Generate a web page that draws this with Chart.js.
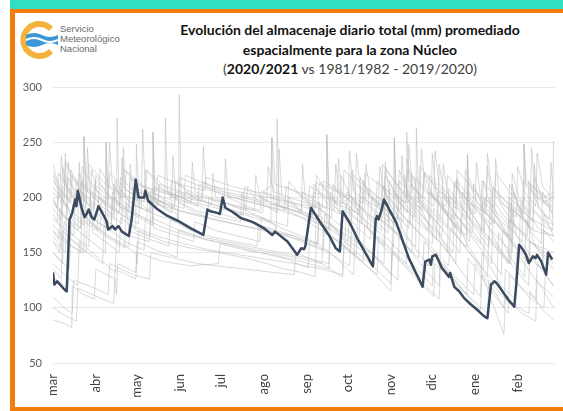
<!DOCTYPE html>
<html>
<head>
<meta charset="utf-8">
<script src="https://cdn.jsdelivr.net/npm/chart.js@4/dist/chart.umd.min.js"></script>
<style>
    html, body { margin: 0; padding: 0; width: 563px; height: 411px; overflow: hidden; background: #fff; }
    #franja { position: absolute; left: 10px; top: 0; width: 560px; height: 9px; background: #2fe0c2; }
    #marco { position: absolute; left: 10px; top: 9px; width: 570px; height: 402px; box-sizing: border-box;
             border-top: 4px solid #f07d0e; border-left: 5px solid #f07d0e; border-bottom: 4px solid #f07d0e; }
    #logo { position: absolute; left: 20px; top: 21px; }
    #smn { position: absolute; left: 60px; top: 24px; font-family: "Liberation Sans", Arial, sans-serif;
           font-size: 9.5px; line-height: 9.8px; color: #6b6b6b; }
    #titulo { position: absolute; left: 150px; width: 400px; top: 20px; text-align: center;
              font-family: Lato, "Open Sans", sans-serif; color: #111; }
    #titulo .l1 { font-weight: bold; font-size: 14px; line-height: 19.5px; }
    #titulo .l3 { font-size: 14px; line-height: 19.5px; color: #404040; }
    #titulo .l3 b { color: #111; }
    #graf { position: absolute; left: 0; top: 0; }
</style>
</head>
<body>
<div id="franja"></div>
<div id="marco"></div>
<svg id="logo" width="38" height="38" viewBox="0 0 38 38">
    <path d="M31 8 A16 16 0 1 0 31 30" fill="none" stroke="#f2b23b" stroke-width="6"/>
    <path d="M6 14 Q14 10 22 14 T38 14 L38 24 Q30 20 22 24 T6 24 Z" fill="#3b97d6"/>
    <path d="M6 19 Q14 15 22 19 T38 19" fill="none" stroke="#fff" stroke-width="2"/>
</svg>
<div id="smn">Servicio<br>Meteorológico<br>Nacional</div>
<div id="titulo">
    <div class="l1">Evolución del almacenaje diario total (mm) promediado</div>
    <div class="l1">espacialmente para la zona Núcleo</div>
    <div class="l3">(<b>2020/2021</b> vs 1981/1982 - 2019/2020)</div>
</div>
<canvas id="graf" width="563" height="411"></canvas>
<script>
const meses = ["mar", "abr", "may", "jun", "jul", "ago", "sep", "oct", "nov", "dic", "ene", "feb"];
const diasMes = [0, 31, 61, 92, 122, 153, 184, 214, 245, 275, 306, 337];
const ticksY = [50, 100, 150, 200, 250, 300];

// campaña 2020/2021 (día desde 1 de marzo, mm)
const diasActual = [0, 1, 3, 9.5, 10, 12, 14, 16, 17, 18, 21, 23, 26, 28, 30, 33, 37, 39, 40, 43, 45, 47.5, 50, 55, 57, 60, 62, 66, 67, 69,
    75, 82, 91, 100, 109, 112, 114, 119, 121, 123, 125, 130, 136, 143, 146, 153, 159, 161, 170, 177, 180, 182, 183, 187, 194, 200,
    205, 208, 210, 216, 221, 232, 234, 235, 236, 238, 240, 249, 258, 268, 270, 273, 274, 275, 277.6, 282, 285, 287, 288, 291,
    294.5, 298, 303, 305, 309, 311.5, 313, 315, 317.6, 320, 322, 327, 331, 334.5, 336, 338, 340.6, 343, 345, 348, 350, 351,
    354, 357.6, 359, 362];
const valoresActual = [132, 121, 124, 115, 116, 180, 186, 198, 192, 206, 189, 182, 189, 182, 180, 192, 183, 178, 171, 174, 171, 174, 169, 165, 180, 216, 200, 200, 206, 197,
    190, 184, 178.5, 172, 166, 189, 187.5, 186, 185, 200, 190.6, 187, 181.5, 178.5, 177, 172, 166, 169, 160, 148, 154, 153, 156, 190.6, 177, 166,
    154, 151, 187.5, 175, 162, 137.5, 180, 183, 180, 187.5, 198, 177, 145, 119, 142, 143.6, 139, 146.6, 148, 136, 131.5, 128, 131.5, 119,
    115, 109, 103, 101, 96.6, 93.6, 92, 90.6, 121, 124, 122, 113, 106, 101, 122, 157, 153, 148, 140.6, 146.6, 145, 148,
    142, 130, 150, 143.6];

// campañas 1981/1982 - 2019/2020 (pares día, mm)
const campanasPrevias = [
    [0,205, 6,196, 7,228, 10,210, 18,198, 19,222, 25,205, 33,196, 34,226, 40,212, 52,200, 53,224, 60,212, 75,206, 76,220, 91,212, 110,206, 111,218, 130,210, 150,204, 158,210, 159,254, 161,212, 175,206, 190,200, 191,214, 205,206, 215,198, 216,222, 228,208, 240,196, 241,226, 250,210, 256,200, 256.5,259, 258,215, 268,200, 269,222, 280,205, 292,190, 293,215, 305,195, 318,180, 319,208, 330,195, 341,185, 341.5,248, 343,210, 355,195, 363,200],
    [0,89, 8,86, 13.6,82, 14,120, 22,112, 30,108, 31,135, 45,126, 46,112, 47,140, 60,132, 61,160, 75,152, 90,146, 91,170, 110,162, 125,158, 150,150, 170,144, 185,136, 186,160, 200,150, 215,138, 216,165, 232,148, 245,130, 246,158, 262,138, 275,120, 276,150, 290,130, 305,112, 306,140, 320,115, 327,100, 328,135, 340,118, 350,108, 351,140, 363,120],
    [0,160, 5,150, 6,200, 12,185, 22,175, 22.5,255, 24,195, 35,182, 38,176, 38.5,250, 40,195, 55,180, 60,172, 60.5,248, 62,205, 80,196, 81,190, 81.5,272, 83,205, 100,196, 120,190, 140,184, 160,176, 162,171, 162.5,271, 164,192, 180,182, 195,170, 198,166, 198.5,257, 200,196, 215,180, 230,162, 231,200, 245,180, 247,176, 247.5,254, 249,200, 262,180, 280,160, 281,190, 300,165, 300.5,239, 302,188, 315,165, 330,140, 331,180, 345,160, 363,150],
    [0,175, 10,160, 20,150, 21,185, 35,170, 46,160, 46.5,272, 48,192, 65,180, 72,175, 72.5,259, 74,195, 90,185, 91,178, 91.5,293, 93,200, 110,190, 130,182, 150,175, 175,165, 190,155, 191,185, 210,168, 230,150, 240,140, 241,185, 255,165, 263,155, 263.5,263, 265,200, 280,175, 295,150, 296,185, 310,160, 325,130, 326,170, 340,150, 355,135, 356,170, 363,160],
    [0,230, 4,210, 12,195, 13,225, 20,205, 30,192, 31,215, 42,200, 55,188, 56,218, 70,205, 85,198, 86,215, 100,205, 108,200, 109,246, 111,210, 130,202, 150,196, 170,190, 188,184, 189,205, 205,195, 222,185, 223,210, 238,192, 250,180, 251,215, 265,195, 272,186, 273,220, 287,198, 300,180, 301,205, 315,185, 330,165, 331,200, 345,182, 362,170, 363,251],
    [0,140, 10,128, 18,120, 19,160, 33,145, 45,132, 46,160, 60,150, 61,140, 62,170, 80,160, 100,154, 120,150, 140,145, 155,140, 165,136, 180,132, 190,128, 191,160, 205,145, 218,130, 219,165, 235,145, 250,125, 251,165, 265,142, 280,120, 281,160, 295,135, 310,110, 311,150, 325,120, 335,108, 336,150, 350,125, 363,110],
    [0,215, 8,200, 9,232, 15,215, 25,205, 26,230, 38,212, 50,200, 51,226, 66,210, 80,204, 95,200, 96,220, 115,210, 135,205, 155,200, 175,195, 195,190, 196,215, 210,204, 225,195, 226,222, 240,208, 256,195, 257,225, 270,205, 285,192, 286,220, 298,200, 310,188, 311,215, 325,195, 340,182, 341,215, 352,200, 363,192],
    [0,190, 6,180, 7,210, 20,192, 29,182, 30,212, 45,195, 58,184, 59,210, 75,198, 88,192, 89,205, 105,198, 125,190, 145,184, 158,178, 158.5,254, 160,196, 178,186, 200,176, 212,165, 213,205, 228,185, 243,168, 244,208, 258,190, 272,170, 273,205, 288,180, 302,160, 303,195, 318,170, 333,150, 334,190, 348,170, 363,165],
    [0,150, 12,135, 13,175, 28,160, 38,150, 38.5,250, 40,178, 55,165, 70,160, 71,182, 88,172, 105,165, 125,160, 145,155, 165,150, 185,145, 200,140, 201,175, 215,160, 232,145, 233,185, 248,168, 260,150, 261,195, 275,172, 290,150, 291,185, 305,162, 318,140, 319,180, 333,158, 345,140, 346,190, 363,170],
    [0,200, 3,190, 4,222, 14,202, 22,192, 22.5,255, 24,210, 36,196, 48,186, 49,218, 63,200, 76,194, 77,212, 95,204, 115,198, 135,192, 152,186, 153,205, 170,196, 185,190, 186,210, 200,200, 210,194, 211,225, 225,205, 238,194, 239,230, 252,208, 265,195, 266,228, 280,206, 292,195, 293,225, 306,205, 320,192, 321,222, 334,200, 341,195, 341.5,248, 343,215, 356,200, 363,205],
    [0,110, 8,100, 14,95, 15,125, 30,118, 40,112, 41,140, 58,130, 70,126, 71,150, 88,145, 105,140, 125,137, 140,135, 160,132, 175,130, 176,150, 195,140, 210,128, 211,155, 230,135, 245,115, 246,150, 262,128, 276,110, 277,140, 295,118, 310,98, 311,130, 320,100, 327,76, 328,110, 340,95, 350,88, 351,125, 363,100],
    [0,180, 15,165, 16,195, 30,180, 42,170, 43,200, 58,186, 72,178, 72.5,259, 74,198, 92,188, 112,182, 132,176, 152,170, 172,164, 184,160, 185,185, 200,172, 214,160, 215,192, 230,175, 245,160, 247,155, 247.5,254, 249,190, 262,172, 275,158, 276,190, 290,168, 300,155, 300.5,239, 302,180, 318,158, 332,140, 333,178, 348,158, 363,145],
    [0,170, 10,158, 22,150, 23,180, 40,165, 55,155, 56,175, 75,165, 95,158, 115,152, 135,148, 155,144, 175,140, 195,135, 210,130, 211,160, 228,142, 245,122, 246,150, 262,130, 280,108, 281,140, 298,115, 315,95, 316,125, 330,105, 345,95, 346,115, 355,98, 363,89],
    [0,222, 5,208, 13,196, 14,220, 26,205, 40,195, 41,222, 55,205, 67,198, 68,225, 82,208, 91,200, 92,218, 110,208, 130,200, 150,194, 168,188, 169,210, 185,198, 198,190, 198.5,257, 200,210, 218,195, 234,180, 235,215, 250,196, 262,182, 263,218, 278,196, 290,180, 291,212, 305,192, 318,175, 319,210, 332,190, 345,175, 346,212, 363,195],
    [0,128, 10,118, 11,165, 25,150, 36,140, 37,175, 52,160, 66,152, 67,180, 85,170, 100,165, 118,160, 138,155, 158,150, 178,145, 195,140, 196,170, 212,155, 225,142, 226,175, 240,158, 256,140, 257,180, 272,158, 287,138, 288,172, 302,150, 315,128, 316,165, 332,140, 345,120, 346,160, 363,140],
    [0,195, 8,182, 20,172, 21,205, 34,190, 44,180, 45,208, 60,192, 72,186, 73,210, 90,198, 105,192, 106,212, 125,202, 145,195, 165,188, 185,180, 200,172, 201,200, 218,182, 228,172, 229,208, 245,188, 258,172, 259,212, 273,190, 286,172, 287,208, 300,185, 312,168, 313,200, 328,178, 340,160, 341,200, 355,180, 363,175],
    [0,100, 10,92, 17,88, 18,118, 32,110, 44,104, 45,135, 60,126, 61,150, 80,142, 100,138, 120,140, 121,158, 140,152, 160,148, 180,142, 200,135, 201,165, 218,148, 235,130, 236,165, 252,145, 268,125, 269,160, 285,135, 300,112, 301,145, 316,118, 330,95, 331,130, 345,110, 356,100, 357,130, 363,120],
    [0,165, 6,155, 7,195, 20,180, 32,170, 33,200, 48,185, 62,176, 63,205, 80,192, 97,186, 115,180, 135,175, 155,170, 175,165, 192,158, 193,190, 208,175, 222,162, 223,200, 238,180, 252,165, 253,205, 268,182, 282,165, 283,200, 298,175, 310,158, 311,195, 326,170, 338,150, 339,195, 352,172, 363,165],
    [0,185, 3,178, 4,205, 8,195, 9,240, 10,200, 16,190, 17,215, 22,200, 27,192, 28,225, 32,205, 38,195, 43,188, 44,212, 50,198, 55,190, 56,230, 58,200, 65,193, 70,188, 71,206, 80,198, 90,192, 95,190, 96,205, 105,198, 115,193, 116,222, 118,200, 130,192, 140,188, 141,210, 150,200, 160,194, 170,190, 171,215, 180,200, 190,190, 191,220, 200,202, 206,195, 207,235, 209,205, 218,192, 222,188, 223,218, 230,200, 236,192, 237,228, 240,205, 248,192, 252,188, 253,238, 255,205, 262,195, 268,188, 269,222, 276,200, 282,190, 283,230, 286,205, 294,190, 300,182, 301,215, 308,195, 314,185, 315,228, 318,200, 326,185, 332,176, 333,222, 338,200, 346,185, 347,245, 349,210, 356,195, 363,190],
    [0,170, 4,162, 5,190, 12,178, 18,170, 19,232, 21,188, 28,176, 34,170, 35,198, 42,184, 50,176, 51,245, 53,195, 62,184, 68,180, 69,205, 78,192, 86,186, 87,238, 89,198, 100,188, 112,182, 113,200, 125,190, 138,184, 139,210, 150,195, 163,186, 164,244, 166,200, 178,190, 188,182, 189,212, 198,196, 204,188, 205,230, 208,200, 216,186, 224,176, 225,215, 232,196, 240,184, 241,232, 244,200, 252,186, 259,176, 260,222, 266,198, 274,182, 275,240, 278,200, 287,182, 296,166, 297,205, 304,185, 311,170, 312,215, 318,190, 326,172, 333,160, 334,205, 340,185, 348,170, 349,230, 352,190, 363,176],
    [0,198, 5,188, 10,180, 11,218, 17,200, 24,190, 25,245, 27,205, 35,192, 44,184, 45,215, 54,198, 64,190, 65,262, 67,205, 78,196, 88,190, 89,215, 100,202, 112,196, 124,190, 125,235, 127,200, 140,192, 150,188, 151,205, 165,196, 180,188, 181,230, 183,198, 195,188, 202,182, 203,212, 212,196, 219,186, 220,240, 223,205, 232,190, 243,178, 244,215, 251,196, 257,186, 258,248, 261,205, 270,188, 279,176, 280,230, 284,200, 293,182, 304,168, 305,212, 312,190, 320,176, 321,235, 324,195, 334,176, 344,165, 345,215, 352,192, 360,180, 361,232, 363,200],
    [0,150, 7,140, 8,178, 15,165, 26,155, 27,205, 29,168, 40,158, 48,150, 49,182, 60,170, 70,164, 71,200, 73,172, 88,166, 102,160, 103,178, 118,170, 134,165, 150,160, 151,182, 166,172, 180,165, 192,158, 193,196, 196,170, 210,158, 220,148, 221,190, 230,170, 240,156, 241,210, 244,175, 255,158, 265,145, 266,192, 275,168, 286,150, 287,200, 290,170, 302,150, 312,135, 313,180, 322,158, 331,140, 332,195, 336,165, 346,148, 355,135, 356,185, 363,165],
    [0,210, 5,200, 6,238, 8,212, 15,200, 20,195, 21,228, 30,208, 40,198, 41,250, 43,212, 55,200, 66,196, 67,225, 80,206, 95,200, 108,196, 109,214, 125,205, 142,200, 155,196, 156,228, 160,205, 176,198, 192,192, 193,212, 204,200, 214,192, 215,242, 218,205, 230,195, 240,188, 241,220, 248,204, 256,195, 257,235, 260,210, 270,198, 276,192, 277,242, 280,212, 290,198, 298,188, 299,225, 306,205, 314,192, 315,240, 318,210, 328,192, 336,182, 337,228, 342,205, 350,192, 351,240, 355,210, 363,198],
    [0,135, 6,126, 7,170, 16,158, 24,150, 25,190, 32,170, 44,160, 52,154, 53,195, 55,170, 70,162, 84,156, 85,180, 100,170, 116,164, 132,160, 148,156, 149,175, 164,168, 180,160, 196,152, 197,185, 206,168, 216,155, 217,200, 224,178, 236,160, 246,148, 247,192, 254,170, 266,148, 272,138, 273,185, 282,162, 292,140, 293,178, 300,158, 312,135, 322,120, 323,168, 332,145, 342,128, 343,180, 350,155, 363,135],
    [0,220, 4,205, 10,192, 11,232, 14,210, 22,198, 30,190, 31,220, 40,202, 49,194, 50,236, 52,208, 63,198, 76,192, 77,210, 88,200, 100,195, 101,232, 103,205, 118,198, 132,192, 146,188, 147,220, 150,200, 164,192, 180,186, 181,205, 192,195, 208,185, 209,220, 216,200, 226,188, 227,230, 230,204, 240,190, 250,180, 251,225, 258,202, 266,190, 267,244, 270,210, 282,192, 290,182, 291,215, 298,196, 306,185, 307,232, 310,200, 320,185, 330,172, 331,212, 338,192, 348,178, 349,218, 356,196, 363,186],
    [0,160, 9,150, 10,195, 14,180, 20,172, 21,215, 24,188, 34,176, 42,170, 43,205, 50,188, 58,180, 59,218, 62,192, 75,184, 90,178, 91,196, 104,188, 120,182, 136,178, 137,205, 140,188, 155,180, 170,174, 171,200, 180,186, 190,178, 200,170, 201,205, 208,186, 216,176, 217,225, 220,194, 230,180, 238,170, 239,210, 246,190, 254,178, 255,220, 258,195, 268,178, 278,162, 279,205, 286,184, 292,172, 293,218, 296,192, 306,172, 316,155, 317,200, 324,178, 332,162, 333,212, 338,188, 346,170, 354,158, 355,205, 363,182]
];

function aPuntos(serie) {
    const pts = [];
    for (let i = 0; i < serie.length; i += 2) {
        pts.push({ x: serie[i], y: serie[i + 1] });
    }
    return pts;
}

const datasets = [{
    label: "2020/2021",
    data: diasActual.map(function(d, i) { return { x: d, y: valoresActual[i] }; }),
    borderColor: "#3a4a5f",
    borderWidth: 2.5,
    pointRadius: 0,
    borderJoinStyle: "round",
    order: 0
}];

campanasPrevias.forEach(function(serie, i) {
    datasets.push({
        label: "previa " + i,
        data: aPuntos(serie),
        borderColor: "rgba(185,185,185,0.55)",
        borderWidth: 1,
        pointRadius: 0,
        order: 1
    });
});

new Chart(document.getElementById("graf"), {
    type: "line",
    data: { datasets: datasets },
    options: {
        responsive: false,
        animation: false,
        devicePixelRatio: 1,
        layout: { padding: { left: 0, right: 8, top: 87, bottom: 0 } },
        plugins: { legend: { display: false }, tooltip: { enabled: false } },
        scales: {
            x: {
                type: "linear",
                min: 0,
                max: 364,
                grid: { display: false, drawTicks: false },
                border: { display: false },
                afterBuildTicks: function(scale) {
                    scale.ticks = diasMes.map(function(v) { return { value: v }; });
                },
                afterFit: function(scale) { scale.height = 48; },
                ticks: {
                    autoSkip: false,
                    maxRotation: 90,
                    minRotation: 90,
                    padding: 11,
                    color: "#404040",
                    font: { family: "Lato", size: 13 },
                    callback: function(v, i) { return meses[i]; }
                }
            },
            y: {
                min: 50,
                max: 300,
                grid: { color: "#e9e9e9", drawTicks: false },
                border: { display: false },
                afterBuildTicks: function(scale) {
                    scale.ticks = ticksY.map(function(v) { return { value: v }; });
                },
                afterFit: function(scale) { scale.width = 53; },
                ticks: {
                    padding: 11,
                    color: "#595959",
                    font: { family: "Lato", size: 11 }
                }
            }
        }
    }
});
</script>
</body>
</html>
